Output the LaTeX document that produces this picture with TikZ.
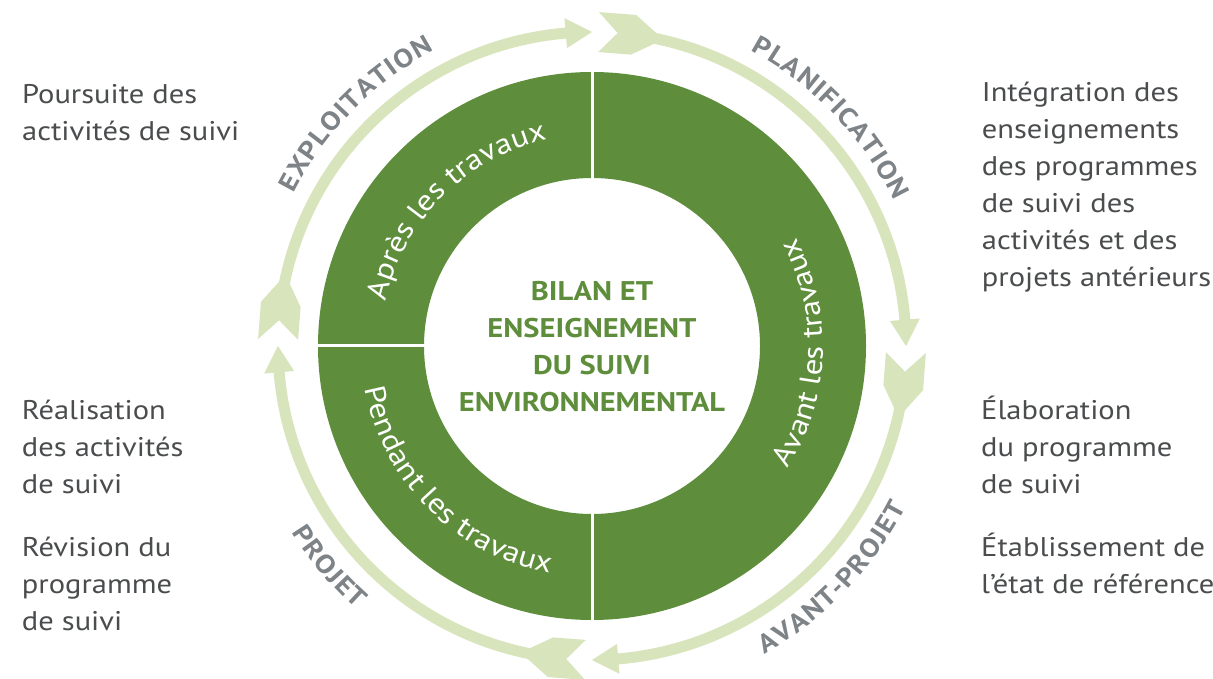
\documentclass[tikz,border=0pt]{standalone}
\usepackage{fontspec}
\setmainfont{PT Sans}[FakeStretch=1.13]
\usetikzlibrary{decorations.text,calc}
\definecolor{dgreen}{HTML}{5E8D3B}
\definecolor{lgreen}{HTML}{D8E4BB}
\definecolor{lblgray}{HTML}{7E8387}
\definecolor{bodygray}{HTML}{4A4C4D}
\newcommand{\bodyfont}{\fontsize{27}{37}\selectfont}
\newcommand{\lblfont}{\fontsize{26}{26}\selectfont\bfseries\color{lblgray}}
\newcommand{\ringfont}{\fontsize{29}{29}\selectfont\color{white}}
\newcommand{\tk}{\kern1pt}
\tikzset{
  bodytext/.style={anchor=base west, inner sep=0pt, text=bodygray, font=\bodyfont},
  arclabel/.style={decorate, decoration={text along path, text align=center, text={#1}}},
  cyclearrow/.style={fill=lgreen},
}
\begin{document}
\begin{tikzpicture}[x=1pt,y=1pt]
\useasboundingbox (0,0) rectangle (1213,678);
\fill[white] (0,0) rectangle (1213,678);
\coordinate (C) at (592,332);
% dark ring
\fill[dgreen,even odd rule] (C) circle[radius=274pt] (C) circle[radius=168pt];
\draw[white, line width=3pt] ($(C)+(0,277)$) -- ($(C)+(0,165)$);
\draw[white, line width=3pt] ($(C)+(0,-165)$) -- ($(C)+(0,-277)$);
\draw[white, line width=3pt] ($(C)+(-277,0)$) -- ($(C)+(-165,0)$);
% cycle arrows
\begin{scope}[shift={(C)}]
\foreach \a in {90,0,-90,180} {
  \fill[cyclearrow] (\a-1.2:334pt) -- (\a-7.6:334pt) -- (\a-11.6:319.5pt)
    arc[start angle=\a-11.6, end angle=\a-85.2, radius=319.5pt]
    -- (\a-85.2:329pt) -- (\a-90:314pt) -- (\a-85.2:299pt) -- (\a-85.2:308.5pt)
    arc[start angle=\a-85.2, end angle=\a-11.6, radius=308.5pt]
    -- (\a-7.6:294pt) -- (\a-1.2:294pt) -- (\a-4.7:314pt) -- cycle;
}
% outer labels
\path[arclabel={|\lblfont|E{\tk}X{\tk}P{\tk}L{\tk}O{\tk}I{\tk}T{\tk}A{\tk}T{\tk}I{\tk}O{\tk}N}]
  (175.5:335pt) arc[start angle=175.5, end angle=95.5, radius=335pt];
\path[arclabel={|\lblfont|P{\tk}L{\tk}A{\tk}N{\tk}I{\tk}F{\tk}I{\tk}C{\tk}A{\tk}T{\tk}I{\tk}O{\tk}N}]
  (83.7:335pt) arc[start angle=83.7, end angle=3.7, radius=335pt];
\path[arclabel={|\lblfont|A{\tk}V{\tk}A{\tk}N{\tk}T{\tk}-{\tk}P{\tk}R{\tk}O{\tk}J{\tk}E{\tk}T}]
  (-84:353pt) arc[start angle=-84, end angle=-4, radius=353pt];
\path[arclabel={|\lblfont|P{\tk}R{\tk}O{\tk}J{\tk}E{\tk}T}]
  (-180:353pt) arc[start angle=-180, end angle=-100, radius=353pt];
% ring labels
\path[arclabel={|\ringfont|Après les travaux}]
  (195:211pt) arc[start angle=195, end angle=75, radius=211pt];
\path[arclabel={|\ringfont|Avant les travaux}]
  (-62:231pt) arc[start angle=-62, end angle=58, radius=231pt];
\path[arclabel={|\ringfont|Pendant les travaux}]
  (165:231pt) arc[start angle=165, end angle=285, radius=231pt];
\end{scope}
% centre title
\node[anchor=base, inner sep=0pt, text=dgreen, font=\fontsize{27}{37}\selectfont\bfseries] (title) at (592,377)
  {\begin{tabular}[t]{@{}c@{}}BILAN ET\\ENSEIGNEMENT\\DU SUIVI\\ENVIRONNEMENTAL\end{tabular}};
% side texts
\node[bodytext] (poursuite) at (22,574.7) {\begin{tabular}[t]{@{}l@{}}Poursuite des\\activités de suivi\end{tabular}};
\node[bodytext] (integration) at (981.7,576.3) {\begin{tabular}[t]{@{}l@{}}Intégration des\\enseignements\\des programmes\\de suivi des\\activités et des\\projets antérieurs\end{tabular}};
\node[bodytext] (realisation) at (21.7,258) {\begin{tabular}[t]{@{}l@{}}Réalisation\\des activités\\de suivi\end{tabular}};
\node[bodytext] (revision) at (21.7,121.3) {\begin{tabular}[t]{@{}l@{}}Révision du\\programme\\de suivi\end{tabular}};
\node[bodytext] (elaboration) at (981,258) {\begin{tabular}[t]{@{}l@{}}Élaboration\\du programme\\de suivi\end{tabular}};
\node[bodytext] (etablissement) at (981,122) {\begin{tabular}[t]{@{}l@{}}Établissement de\\l’état de référence\end{tabular}};
\end{tikzpicture}
\end{document}
